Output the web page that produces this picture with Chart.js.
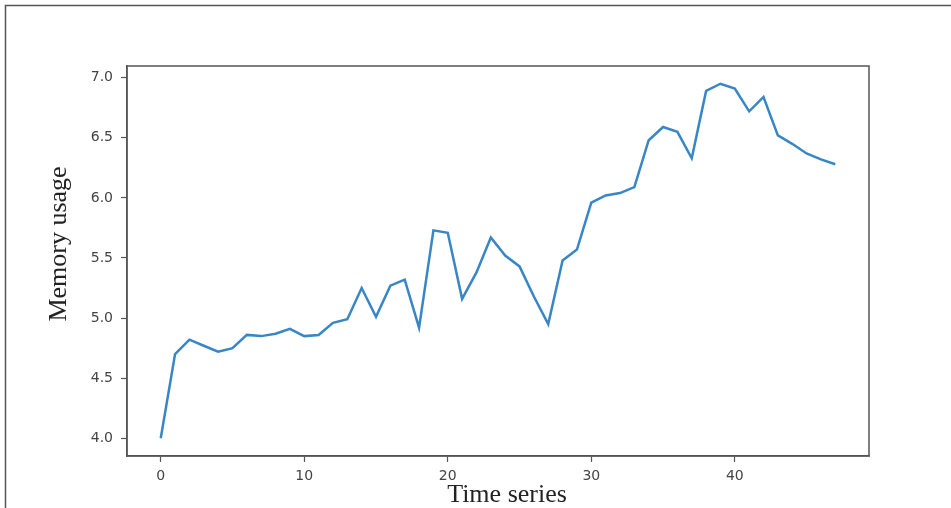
<!DOCTYPE html>
<html>
<head>
<meta charset="utf-8">
<script src="https://cdn.jsdelivr.net/npm/chart.js@4/dist/chart.umd.min.js"></script>
<style>
  html, body { margin: 0; padding: 0; background: #fff; }
  canvas { display: block; }
</style>
</head>
<body>
<canvas id="memChart" width="951" height="508"></canvas>
<script>
// memory usage per time step
const memoryUsage = [
    4.00, 4.70, 4.82, 4.77, 4.72, 4.75, 4.86, 4.85, 4.87, 4.91,
    4.85, 4.86, 4.96, 4.99, 5.25, 5.01, 5.27, 5.32, 4.92, 5.73,
    5.71, 5.16, 5.38, 5.67, 5.52, 5.43, 5.18, 4.95, 5.48, 5.57,
    5.96, 6.02, 6.04, 6.09, 6.48, 6.59, 6.55, 6.33, 6.89, 6.95,
    6.91, 6.72, 6.84, 6.52, 6.45, 6.37, 6.32, 6.28
];
const xTicks = [0, 10, 20, 30, 40];
const yTicks = [4.0, 4.5, 5.0, 5.5, 6.0, 6.5, 7.0];
const xTitle = 'Time series';
const yTitle = 'Memory usage';

const axisGray = '#555';
const tickFont = { family: 'DejaVu Sans', size: 14 };

// frame around the plot area + outer border + axis titles
const decorPlugin = {
    id: 'decor',
    afterDraw(chart) {
        const { ctx, chartArea: a } = chart;
        ctx.save();
        ctx.strokeStyle = axisGray;
        ctx.lineWidth = 1.5;
        ctx.strokeRect(a.left, a.top, a.right - a.left, a.bottom - a.top);

        ctx.beginPath();
        ctx.moveTo(951, 5.5);
        ctx.lineTo(5.5, 5.5);
        ctx.lineTo(5.5, 508);
        ctx.stroke();

        ctx.fillStyle = '#222';
        ctx.textAlign = 'center';
        ctx.textBaseline = 'middle';
        ctx.font = '26px "Liberation Serif", "Times New Roman", serif';
        ctx.fillText(xTitle, 507, 495);

        ctx.translate(59, 244);
        ctx.rotate(-Math.PI / 2);
        ctx.fillText(yTitle, 0, 0);
        ctx.restore();
    }
};

new Chart(document.getElementById('memChart'), {
    type: 'line',
    data: {
        datasets: [{
            data: memoryUsage.map((v, i) => ({ x: i, y: v })),
            borderColor: '#3886c6',
            borderWidth: 2.5,
            pointRadius: 0,
            tension: 0,
            fill: false
        }]
    },
    options: {
        responsive: false,
        animation: false,
        layout: { padding: { top: 66, right: 82, left: 0, bottom: 0 } },
        plugins: {
            legend: { display: false },
            tooltip: { enabled: false }
        },
        scales: {
            x: {
                type: 'linear',
                min: -2.35,
                max: 49.35,
                afterBuildTicks: s => { s.ticks = xTicks.map(v => ({ value: v })); },
                afterFit: s => { s.height = 52; },
                grid: { drawOnChartArea: false, tickLength: 6, tickColor: axisGray, tickWidth: 1.2 },
                border: { color: axisGray, width: 1.5 },
                ticks: { color: '#444', font: tickFont, padding: 6, maxRotation: 0 }
            },
            y: {
                type: 'linear',
                min: 3.8525,
                max: 7.0975,
                afterBuildTicks: s => { s.ticks = yTicks.map(v => ({ value: v })); },
                afterFit: s => { s.width = 127; },
                grid: { drawOnChartArea: false, tickLength: 6, tickColor: axisGray, tickWidth: 1.2 },
                border: { color: axisGray, width: 1.5 },
                ticks: {
                    color: '#444',
                    font: tickFont,
                    padding: 8,
                    callback: v => v.toFixed(1)
                }
            }
        }
    },
    plugins: [decorPlugin]
});
</script>
</body>
</html>
